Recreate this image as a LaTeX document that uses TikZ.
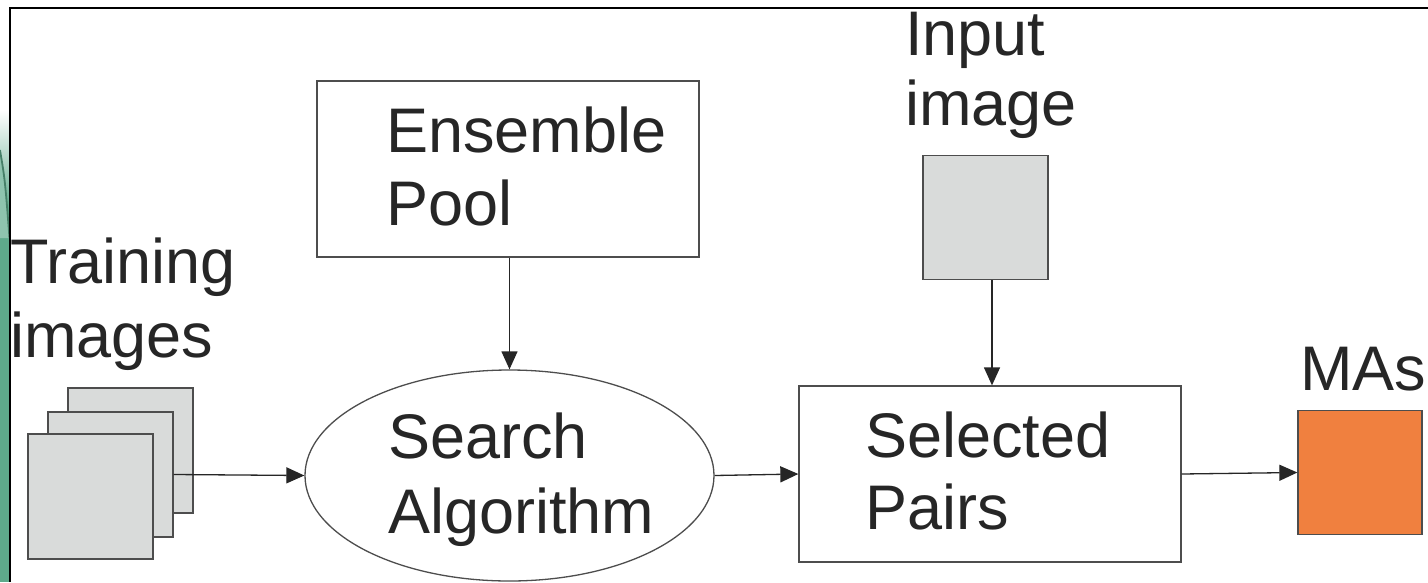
\documentclass[tikz,border=0pt]{standalone}
\usepackage{fontspec}
\setmainfont{Liberation Sans}
\usetikzlibrary{arrows.meta,shapes.geometric}
\definecolor{ink}{HTML}{262626}
\definecolor{edge}{HTML}{4D4D4D}
\definecolor{paper}{HTML}{D9DBDA}
\definecolor{orangebox}{HTML}{F0803F}
\definecolor{teal}{HTML}{5EAA8B}
\begin{document}
\begin{tikzpicture}[x=1pt,y=-1pt,
  lbl/.style={anchor=base west, inner sep=0pt, text=ink, font=\fontsize{63}{72}\selectfont},
  blockbox/.style={draw=edge, line width=1.3pt, fill=white, inner sep=0pt,
    minimum width=382pt, minimum height=176pt},
  imgbox/.style={draw=edge, line width=1.3pt, fill=paper, inner sep=0pt,
    minimum width=125pt, minimum height=125pt},
  outbox/.style={imgbox, fill=orangebox, minimum width=124pt, minimum height=124pt},
  oval/.style={ellipse, draw=edge, line width=1.3pt, fill=white, inner sep=0pt,
    minimum width=409pt, minimum height=211pt},
  arr/.style={draw=ink, line width=1.3pt, -{Triangle[length=18pt,width=16pt]}}
]
\useasboundingbox (0,0) rectangle (1428,582);
\fill[white] (0,0) rectangle (1428,582);

% green edge strip
\shade[top color=white, bottom color=teal] (0,110) rectangle (10,210);
\fill[teal] (0,209) rectangle (10,582);
\fill[teal!70] (0,150) .. controls (5,180) .. (10,238) -- (0,238) -- cycle;
\draw[teal!75!black, line width=1.8pt] (0,150) .. controls (5,180) .. (9.5,238);

% page frame
\draw[black, line width=1.2pt] (10,582) -- (10,8) -- (1428,8);

% blocks
\node[blockbox] (ens) at (508,169) {};
\node[oval] (ell) at (509.5,475.5) {};
\node[blockbox] (sel) at (990,474) {};
\node[imgbox, minimum height=124pt] (inp) at (985.5,217.5) {};
\node[imgbox] (back) at (130.5,450.5) {};
\node[imgbox] (mid) at (110.5,474.5) {};
\node[imgbox] (front) at (90.5,496.5) {};
\node[outbox] (mas) at (1360,472.5) {};

% labels
\node[lbl] (ens1) at (386,152) {Ensemble};
\node[lbl] (ens2) at (386,225) {Pool};
\node[lbl] (srch1) at (388,458) {Search};
\node[lbl] (srch2) at (388,533) {Algorithm};
\node[lbl] (sel1) at (865,457) {Selected};
\node[lbl] (sel2) at (865,529) {Pairs};
\node[lbl] (trn1) at (10,283) {Training};
\node[lbl] (trn2) at (10,357) {images};
\node[lbl] (inp1) at (905,55) {Input};
\node[lbl] (inp2) at (905,125) {image};
\node[lbl] (mas1) at (1300,390) {MAs};

% connectors
\draw[arr] (ens.south -| ell.north) -- (ell.north);
\draw[arr] ([xshift=2pt]inp.south -| sel.north) -- ([xshift=2pt]sel.north);
\draw[arr] (mid.east) -- (ell.west);
\draw[arr] (ell.east) -- (sel.west);
\draw[arr] (sel.east) -- (mas.west);
\end{tikzpicture}
\end{document}
